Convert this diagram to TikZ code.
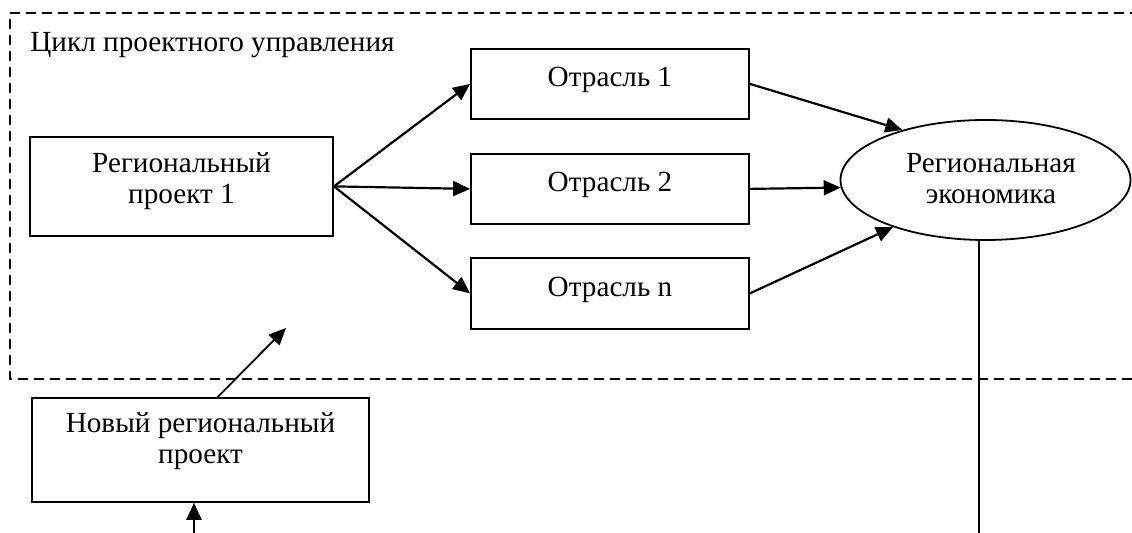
\documentclass[tikz,border=0pt]{standalone}
\usepackage{fontspec}
\setmainfont{Liberation Serif}
\usetikzlibrary{arrows.meta,shapes.geometric}
\begin{document}
\begin{tikzpicture}[x=0.5pt,y=-0.5pt,
  every node/.style={font=\fontsize{14.6}{15.25}\selectfont},
  box/.style={draw,line width=0.9pt,rectangle,inner sep=0pt},
  oval/.style={draw,ellipse,line width=0.9pt,inner sep=0pt},
  arr/.style={line width=1.1pt,-{Triangle[length=8.5pt,width=7.5pt]}},
  frame/.style={line width=0.8pt,dash pattern=on 5pt off 3pt},
  plain/.style={line width=0.6pt}]
\useasboundingbox (0,0) rectangle (1132,533);
% dashed frame
\draw[frame] (1140,13) -- (10,13) -- (10,379) -- (1140,379);
\node[anchor=base west,inner sep=0pt] (title) at (30,52) {Цикл проектного управления};
% boxes
\node[box,minimum width=151.5pt,text height=18pt,text depth=31.5pt,anchor=north] (reg) at (181.5,136)
  {\begin{tabular}[t]{@{}c@{}}Региональный\\проект 1\end{tabular}};
\node[box,minimum width=139pt,text height=19pt,text depth=16pt,anchor=north] (o1) at (610,48) {Отрасль 1};
\node[box,minimum width=139pt,text height=19pt,text depth=16pt,anchor=north] (o2) at (610,153) {Отрасль 2};
\node[box,minimum width=139pt,text height=19.5pt,text depth=16pt,anchor=north] (on) at (610,257) {Отрасль n};
\node[oval,minimum width=145pt,minimum height=60pt,text height=10pt,text depth=17pt] (eco) at (985.5,180)
  {\makebox[0pt]{\hspace{5.5pt}\begin{tabular}[t]{@{}c@{}}Региональная\\экономика\end{tabular}}};
\node[box,minimum width=168.5pt,text height=17.5pt,text depth=34.5pt,anchor=north] (new) at (200.5,397)
  {\begin{tabular}[t]{@{}c@{}}Новый региональный\\проект\end{tabular}};
% free ends
\coordinate (newtip) at (286,328);
\coordinate (newin) at (194,545);
\coordinate (vend) at (979,545);
% connectors
\draw[arr] (reg.east) -- (o1.west);
\draw[arr] (reg.east) -- (o2.west);
\draw[arr] (reg.east) -- (on.west);
\draw[arr] (o1.east) -- (eco.149);
\draw[arr] (o2.east) -- (eco.183);
\draw[arr] (on.east) -- (eco.207);
\draw[plain] (eco.south -| vend) -- (vend);
\draw[arr,line width=0.9pt] (new.72) -- (newtip);
\draw[arr] (newin) -- (newin |- new.south);
\end{tikzpicture}
\end{document}
